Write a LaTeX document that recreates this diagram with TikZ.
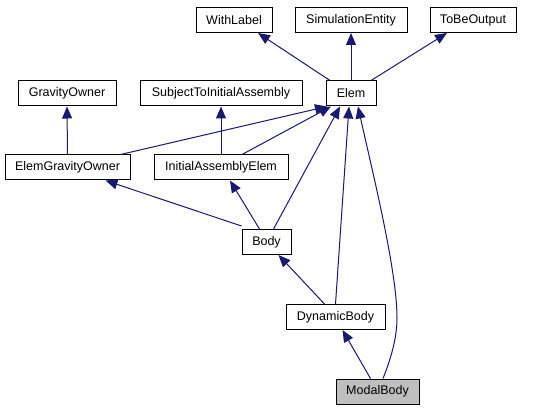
\documentclass[tikz,border=0pt]{standalone}
\usepackage{fontspec}
\setmainfont{Liberation Sans}
\usetikzlibrary{arrows.meta}
\definecolor{edgeblue}{HTML}{191970}
\definecolor{hilite}{HTML}{BFBFBF}
\tikzset{
  cls/.style={draw=black, line width=1pt, fill=white, inner sep=0pt, minimum height=25pt,
    font=\fontsize{12.5}{14}\selectfont},
  edge/.style={draw=edgeblue, line width=1pt, -{Triangle[length=12pt,width=10pt]}, color=edgeblue}
}
\begin{document}
\begin{tikzpicture}[x=1pt,y=-1pt]
\useasboundingbox[fill=white] (0,0) rectangle (548,411);
\node[cls, minimum width=76pt]  (wl) at (234,20) {WithLabel};
\node[cls, minimum width=112pt] (se) at (351,20) {SimulationEntity};
\node[cls, minimum width=86pt]  (tbo) at (473,20) {ToBeOutput};
\node[cls, minimum width=98pt]  (go) at (67,93.5) {GravityOwner};
\node[cls, minimum width=162pt] (stia) at (221,93.5) {SubjectToInitialAssembly};
\node[cls, minimum width=50pt]  (elem) at (351,93.5) {Elem};
\node[cls, minimum width=125pt] (ego) at (67.5,167.5) {ElemGravityOwner};
\node[cls, minimum width=134pt] (iae) at (221,167.5) {InitialAssemblyElem};
\node[cls, minimum width=49pt]  (body) at (266.5,242) {Body};
\node[cls, minimum width=99pt]  (dyn) at (335.5,317) {DynamicBody};
\node[cls, minimum width=83pt, fill=hilite] (modal) at (377.5,391.5) {ModalBody};

\draw[edge] ([xshift=-21pt]elem.north) -- ([xshift=24pt]wl.south);
\draw[edge] (elem.north) -- (se.south);
\draw[edge] ([xshift=20pt]elem.north) -- ([xshift=-26pt]tbo.south);
\draw[edge] (ego.north) -- (go.south);
\draw[edge] ([xshift=53pt]ego.north) -- ([xshift=-24pt]elem.south);
\draw[edge] (iae.north) -- (stia.south);
\draw[edge] ([xshift=21pt]iae.north) -- ([xshift=-20pt]elem.south);
\draw[edge] ([yshift=3pt]body.north west) -- ([xshift=38pt]ego.south);
\draw[edge] ([xshift=-7pt]body.north) -- ([xshift=9pt]iae.south);
\draw[edge] ([xshift=7pt]body.north) -- ([xshift=-11pt]elem.south);
\draw[edge] ([xshift=-11pt]dyn.north) -- ([xshift=12pt]body.south);
\draw[edge] (dyn.north) -- ([xshift=-2pt]elem.south);
\draw[edge] ([xshift=-7pt]modal.north) -- ([xshift=7pt]dyn.south);
\draw[edge] ([xshift=5.5pt]modal.north) .. controls (392,356) and (397,336) .. (397,318)
   .. controls (397,270) and (372,170) .. ([xshift=7pt]elem.south);
\end{tikzpicture}
\end{document}
